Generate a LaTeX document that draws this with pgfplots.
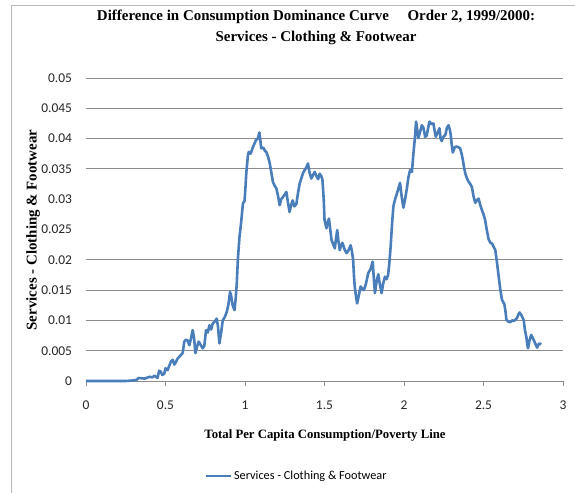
\documentclass[border=0pt]{standalone}
\usepackage{pgfplots}
\pgfplotsset{compat=1.18}
\usepackage{fontspec}
\setmainfont{Liberation Serif}
\newfontfamily\calibri{Carlito}
\definecolor{exblue}{RGB}{74,126,187}
\definecolor{gridgray}{RGB}{140,140,140}
\begin{document}
\begin{tikzpicture}[x=1bp,y=1bp]
\path[use as bounding box] (0,0) rectangle (575,493);
\draw[gray!55, line width=0.8bp] (11,-5) -- (11,488) -- (580,488);
\node[font=\bfseries\fontsize{15}{21}\selectfont, align=center] at (316,465.5) {Difference in Consumption Dominance Curve\quad\ Order 2, 1999/2000:\\Services - Clothing \& Footwear};
\node[font=\bfseries\fontsize{12.8}{14}\selectfont] at (325,58) {Total Per Capita Consumption/Poverty Line};
\node[font=\bfseries\fontsize{15}{16}\selectfont, rotate=90] at (33,263) {Services - Clothing \& Footwear};
\begin{axis}[
  at={(86bp,112bp)}, anchor=origin,
  scale only axis, width=477bp, height=303bp,
  xmin=0, xmax=3, ymin=0, ymax=0.05,
  scaled y ticks=false, scaled x ticks=false,
  axis x line*=bottom, axis y line*=left,
  x axis line style={draw=gridgray, line width=0.8bp, -},
  y axis line style={draw=none},
  xtick={0,0.5,1,1.5,2,2.5,3},
  xticklabels={0,0.5,1,1.5,2,2.5,3},
  ytick={0,0.005,0.01,0.015,0.02,0.025,0.03,0.035,0.04,0.045,0.05},
  yticklabels={0,0.005,0.01,0.015,0.02,0.025,0.03,0.035,0.04,0.045,0.05},
  x tick style={draw=gridgray, line width=0.8bp},
  y tick style={draw=none},
  tick align=outside,
  major tick length=5bp,
  ticklabel style={font=\calibri\fontsize{13.5}{15}\selectfont, text=black!85},
  yticklabel style={xshift=-5.5bp},
  xticklabel style={yshift=-11bp},
  extra y ticks={0.005,0.01,0.015,0.02,0.035,0.04,0.045,0.05},
  extra y tick labels={},
  extra y tick style={grid=major, major tick length=0pt},
  grid style={draw=gridgray, line width=0.8bp},
  legend style={at={(0.248,-0.3135)}, anchor=west, draw=none, fill=none, inner sep=0pt,
    font=\calibri\fontsize{12.3}{14}\selectfont},
  legend image code/.code={\draw[#1] (0bp,0bp) -- (25bp,0bp);},
  clip=false,
]
\addplot[exblue, line width=2.6bp, line join=round] coordinates {
(0,0) (0.05,0) (0.1,0) (0.15,0) (0.2,0) (0.25,0) (0.30,0.0001) (0.32,0.0002) (0.33,0.0005)
(0.37,0.0004) (0.40,0.0007) (0.418,0.0006) (0.43,0.0009) (0.45,0.0005) (0.46,0.0017)
(0.471,0.0015) (0.48,0.0010) (0.492,0.0012) (0.50,0.0021) (0.513,0.0018) (0.534,0.0032)
(0.545,0.0035) (0.555,0.0027) (0.565,0.0031) (0.576,0.0037) (0.587,0.0040) (0.597,0.0043)
(0.608,0.0046) (0.618,0.0065) (0.629,0.0068) (0.639,0.0067) (0.65,0.0059) (0.66,0.0070)
(0.671,0.0084) (0.68,0.0070) (0.688,0.0046) (0.70,0.0058) (0.709,0.0065) (0.72,0.0060)
(0.734,0.0054) (0.744,0.0058) (0.755,0.0084) (0.766,0.0080) (0.776,0.0092) (0.787,0.0085)
(0.797,0.0095) (0.81,0.0098) (0.822,0.0103) (0.83,0.0090) (0.839,0.0062) (0.85,0.0080)
(0.86,0.0100) (0.872,0.0105) (0.885,0.0114) (0.895,0.0125) (0.906,0.0147) (0.913,0.0140)
(0.922,0.0125) (0.934,0.0117) (0.941,0.0135) (0.948,0.0160) (0.955,0.0200) (0.965,0.0237)
(0.975,0.0260) (0.987,0.0293) (0.997,0.0297) (1.003,0.0320) (1.008,0.0343) (1.018,0.0372)
(1.024,0.0378) (1.035,0.0375) (1.05,0.0386) (1.06,0.0392) (1.07,0.0398) (1.08,0.0400)
(1.091,0.0410) (1.102,0.0384) (1.115,0.0385) (1.125,0.0380) (1.134,0.0378) (1.145,0.0370)
(1.155,0.0360) (1.165,0.0345) (1.176,0.0328) (1.187,0.0322) (1.197,0.0318) (1.208,0.0305)
(1.218,0.0290) (1.228,0.0300) (1.24,0.0304) (1.25,0.0308) (1.26,0.0312) (1.27,0.0295)
(1.28,0.0279) (1.29,0.0290) (1.30,0.0298) (1.31,0.0288) (1.323,0.0292) (1.333,0.0310)
(1.344,0.0326) (1.355,0.0335) (1.365,0.0343) (1.375,0.0348) (1.385,0.0352) (1.396,0.0359)
(1.405,0.0345) (1.417,0.0334) (1.428,0.0340) (1.438,0.0345) (1.45,0.0338) (1.46,0.0333)
(1.47,0.0342) (1.48,0.0338) (1.487,0.0332) (1.495,0.0300) (1.50,0.0266) (1.512,0.0252)
(1.52,0.0262) (1.528,0.0268) (1.536,0.0250) (1.544,0.0233) (1.555,0.0225) (1.565,0.0219)
(1.572,0.0235) (1.58,0.0249) (1.588,0.0230) (1.596,0.0216) (1.605,0.0224) (1.613,0.0228)
(1.625,0.0218) (1.638,0.0211) (1.65,0.0215) (1.664,0.0224) (1.672,0.0215) (1.68,0.0200)
(1.685,0.0175) (1.69,0.0156) (1.698,0.0140) (1.705,0.0128) (1.715,0.0140) (1.727,0.0156)
(1.738,0.0152) (1.748,0.0150) (1.76,0.0160) (1.775,0.0178) (1.79,0.0185) (1.803,0.0197)
(1.81,0.0170) (1.817,0.0145) (1.828,0.0165) (1.838,0.0176) (1.848,0.0160) (1.859,0.0145)
(1.87,0.0162) (1.88,0.0172) (1.89,0.0168) (1.90,0.0175) (1.908,0.0195) (1.916,0.0222)
(1.925,0.0260) (1.933,0.0288) (1.944,0.0300) (1.954,0.0308) (1.965,0.0318) (1.975,0.0327)
(1.985,0.0305) (1.996,0.0286) (2.007,0.0300) (2.017,0.0316) (2.027,0.0335) (2.038,0.0348)
(2.05,0.0345) (2.059,0.0375) (2.068,0.0400) (2.076,0.0428) (2.083,0.0415) (2.09,0.0401)
(2.10,0.0410) (2.112,0.0422) (2.122,0.0418) (2.133,0.0403) (2.143,0.0405) (2.152,0.0418)
(2.16,0.0428) (2.172,0.0424) (2.185,0.0425) (2.193,0.0412) (2.20,0.0403) (2.212,0.0410)
(2.223,0.0417) (2.23,0.0400) (2.237,0.0396) (2.248,0.0403) (2.26,0.0406) (2.27,0.0418)
(2.28,0.0422) (2.288,0.0415) (2.294,0.0406) (2.30,0.0390) (2.307,0.0377) (2.318,0.0385)
(2.328,0.0387) (2.34,0.0386) (2.353,0.0384) (2.362,0.0375) (2.37,0.0365) (2.378,0.0352)
(2.385,0.0343) (2.395,0.0335) (2.406,0.0329) (2.417,0.0325) (2.427,0.0320) (2.437,0.0305)
(2.448,0.0294) (2.458,0.0298) (2.469,0.0301) (2.48,0.0290) (2.49,0.0282) (2.50,0.0275)
(2.51,0.0266) (2.52,0.0250) (2.532,0.0234) (2.543,0.0228) (2.553,0.0227) (2.563,0.0222)
(2.574,0.0216) (2.585,0.0195) (2.595,0.0173) (2.605,0.0152) (2.616,0.0134) (2.624,0.0130)
(2.631,0.0127) (2.638,0.0115) (2.644,0.0101) (2.656,0.0098) (2.669,0.0097) (2.68,0.0100)
(2.69,0.0099) (2.70,0.0101) (2.711,0.0104) (2.72,0.0110) (2.727,0.0113) (2.74,0.0108)
(2.753,0.0100) (2.76,0.0085) (2.77,0.0072) (2.775,0.0060) (2.78,0.0054) (2.79,0.0068)
(2.80,0.0076) (2.808,0.0072) (2.815,0.0068) (2.825,0.0062) (2.837,0.0055) (2.845,0.0060)
(2.853,0.0062) (2.862,0.0060)
};
\addlegendentry{Services - Clothing \& Footwear}
\end{axis}
\end{tikzpicture}
\end{document}
